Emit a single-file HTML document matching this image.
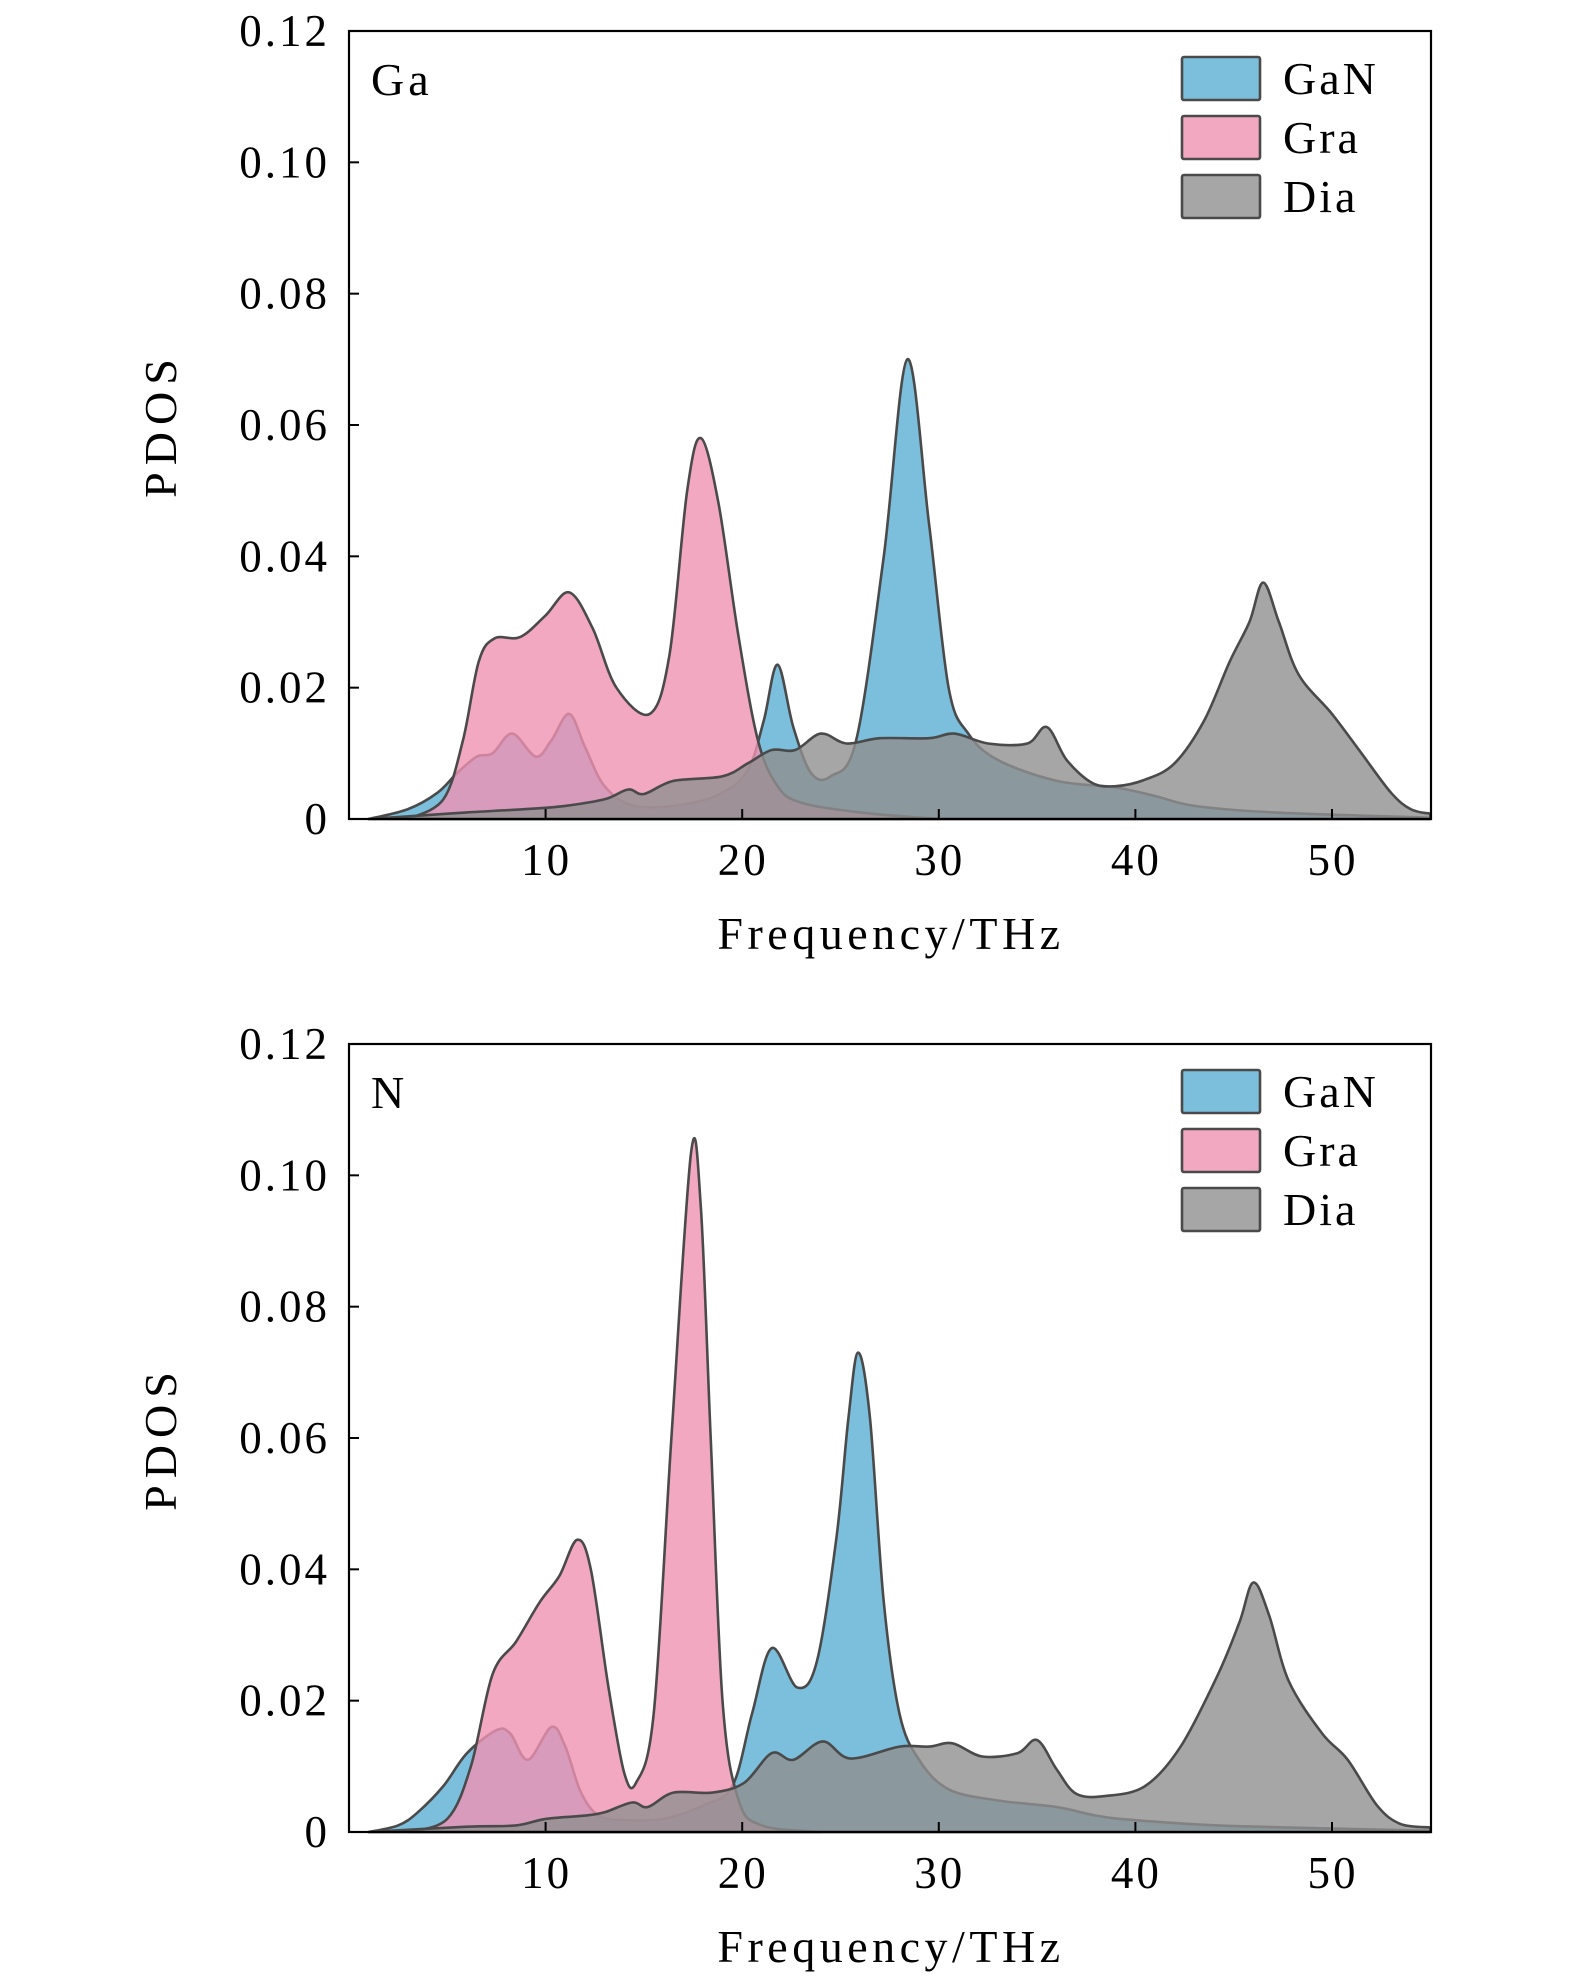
<!DOCTYPE html>
<html><head><meta charset="utf-8"><style>
html,body{margin:0;padding:0;background:#fff;}
svg{display:block;font-family:"Liberation Serif","DejaVu Serif",serif;}
</style></head><body>
<svg id="s" width="1575" height="1978" viewBox="0 0 1575 1978" xmlns="http://www.w3.org/2000/svg"></svg>
<script>
const S=document.getElementById('s');
const NS='http://www.w3.org/2000/svg';
function el(t,a,txt){const e=document.createElementNS(NS,t);for(const k in a)e.setAttribute(k,a[k]);if(txt!==undefined)e.textContent=txt;S.appendChild(e);return e;}
const L=349,R=1431,PX=19.66;
const cols={gan:'rgb(90,175,211)',gra:'rgb(240,146,179)',dia:'rgb(144,144,144)'};
function path(pts,X,Y){
  const p=pts.map(d=>[X(d[0]),Y(d[1])]);
  let s='M'+p[0][0]+','+Y(0)+' L'+p[0][0]+','+p[0][1];
  for(let i=0;i<p.length-1;i++){
    const p0=p[Math.max(i-1,0)],p1=p[i],p2=p[i+1],p3=p[Math.min(i+2,p.length-1)];
    const c1=[p1[0]+(p2[0]-p0[0])/6,p1[1]+(p2[1]-p0[1])/6];
    const c2=[p2[0]-(p3[0]-p1[0])/6,p2[1]-(p3[1]-p1[1])/6];
    s+=` C${c1[0].toFixed(1)},${Math.min(c1[1],Y(0)).toFixed(1)} ${c2[0].toFixed(1)},${Math.min(c2[1],Y(0)).toFixed(1)} ${p2[0].toFixed(1)},${p2[1].toFixed(1)}`;
  }
  s+=' L'+p[p.length-1][0]+','+Y(0)+' Z';
  return s;
}
function panel(top,label,data){
  const bot=top+788;
  const X=f=>L+PX*f, Y=v=>bot-v/0.12*788;
  for(const k of ['gan','gra','dia'])
    el('path',{d:path(data[k],X,Y),fill:cols[k],'fill-opacity':0.8,stroke:'#4a4a4a','stroke-width':2.6,'stroke-linejoin':'round'});
  el('rect',{x:L,y:top,width:R-L,height:788,fill:'none',stroke:'#000','stroke-width':2.2});
  for(let i=0;i<=6;i++){
    const y=Y(i*0.02);
    el('line',{x1:L,x2:L+10,y1:y,y2:y,stroke:'#000','stroke-width':2});
    el('text',{x:330,y:y+15,'text-anchor':'end','font-size':45,'letter-spacing':3},i==0?'0':(i*0.02).toFixed(2));
  }
  for(let f=10;f<=50;f+=10){
    const x=X(f);
    el('line',{x1:x,x2:x,y1:bot,y2:bot-10,stroke:'#000','stroke-width':2});
    el('text',{x:x+1,y:bot+56,'text-anchor':'middle','font-size':45,'letter-spacing':3},f);
  }
  el('text',{x:891,y:bot+130,'text-anchor':'middle','font-size':46,'letter-spacing':4.5},'Frequency/THz');
  const py=top+394;
  el('text',{x:176,y:py,'text-anchor':'middle','font-size':46,'letter-spacing':7,transform:`rotate(-90 176 ${py})`},'PDOS');
  el('text',{x:371,y:top+64,'font-size':46,'letter-spacing':4},label);
  const lg=[['gan','GaN'],['gra','Gra'],['dia','Dia']];
  lg.forEach((g,i)=>{
    const y=top+26+i*59;
    el('rect',{x:1182,y:y,width:78,height:43,fill:cols[g[0]],'fill-opacity':0.8,stroke:'#4a4a4a','stroke-width':2.6,rx:2});
    el('text',{x:1283,y:y+37,'font-size':46,'letter-spacing':3},g[1]);
  });
}
panel(31,'Ga',{
gan:[[1,0],[3,0.0015],[4.5,0.004],[5.5,0.007],[6.5,0.0095],[7.3,0.01],[8.3,0.013],[9.5,0.0095],[10.3,0.012],[11.2,0.016],[12,0.011],[13,0.005],[14.5,0.002],[17,0.0022],[19,0.004],[20.3,0.0075],[21.1,0.015],[21.8,0.0235],[22.6,0.014],[23.5,0.007],[24.5,0.0065],[25.8,0.012],[27.2,0.04],[28.4,0.07],[29.5,0.045],[30.5,0.02],[31.5,0.013],[33,0.009],[36,0.0058],[39,0.0048],[41,0.0035],[43,0.002],[47,0.001],[55,0.0002]],
gra:[[3,0],[4.8,0.003],[5.8,0.012],[6.6,0.024],[7.4,0.0275],[8.7,0.0277],[10,0.031],[11.2,0.0345],[12.4,0.029],[13.6,0.02],[15.3,0.016],[16.3,0.025],[17.2,0.05],[17.9,0.058],[18.8,0.048],[19.8,0.028],[20.8,0.012],[21.8,0.005],[23,0.0025],[26,0.001],[30,0]],
dia:[[1,0],[4,0.0006],[6,0.001],[9,0.0015],[11,0.002],[13,0.003],[14.2,0.0045],[15,0.0038],[16.5,0.0058],[19,0.0065],[20.3,0.0085],[21.5,0.0105],[22.7,0.0105],[24,0.013],[25.3,0.0115],[27,0.0123],[29.5,0.0123],[30.8,0.013],[32.5,0.0115],[34.5,0.0115],[35.5,0.014],[36.5,0.009],[37.8,0.0055],[39,0.005],[40.5,0.006],[42,0.0085],[43.5,0.015],[44.8,0.024],[45.8,0.03],[46.5,0.036],[47.3,0.03],[48.3,0.022],[50,0.016],[51.5,0.01],[53,0.004],[54,0.0015],[55,0.0008]]
});
panel(1044,'N',{
gan:[[1,0],[2.5,0.001],[3.5,0.003],[4.8,0.007],[6,0.012],[7.5,0.0155],[8.2,0.015],[9.1,0.011],[10.3,0.016],[11,0.013],[11.8,0.006],[12.7,0.0025],[14,0.0018],[16,0.002],[18,0.004],[19.5,0.007],[20.5,0.018],[21.5,0.028],[22.8,0.022],[23.8,0.026],[24.8,0.045],[25.4,0.063],[25.9,0.073],[26.5,0.063],[27.2,0.035],[28,0.018],[29,0.011],[30.5,0.0065],[33,0.0048],[36,0.0038],[38,0.0025],[40,0.0018],[45,0.0009],[55,0.0002]],
gra:[[3,0],[5,0.002],[6.2,0.01],[7.3,0.024],[8.5,0.029],[9.7,0.035],[10.7,0.039],[11.6,0.0445],[12.3,0.04],[13.2,0.022],[14,0.009],[14.6,0.0075],[15.5,0.018],[16.4,0.06],[17.4,0.1035],[17.9,0.095],[18.4,0.06],[19,0.02],[19.8,0.005],[21,0.001],[24,0]],
dia:[[1,0],[6,0.0008],[8.5,0.001],[10,0.002],[12,0.0025],[13,0.003],[14.4,0.0045],[15.2,0.0038],[16.5,0.006],[18.5,0.006],[20.1,0.0075],[21.5,0.012],[22.6,0.011],[24.1,0.0138],[25.5,0.0112],[28,0.013],[29.5,0.013],[30.7,0.0135],[32.2,0.0115],[34,0.012],[35,0.014],[36,0.0095],[37,0.0058],[38.5,0.0055],[40.5,0.007],[42.3,0.013],[44.2,0.024],[45.3,0.032],[46,0.038],[46.8,0.033],[47.8,0.023],[49.5,0.015],[50.8,0.011],[52.3,0.004],[53.5,0.0012],[55,0.0007]]
});
</script>
</body></html>
